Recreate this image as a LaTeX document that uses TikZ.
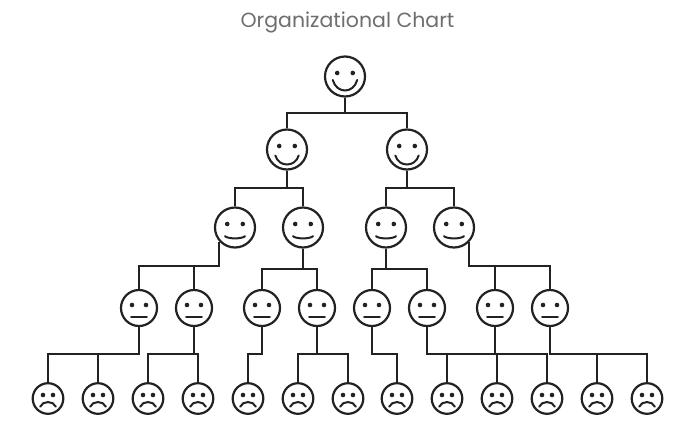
\documentclass[tikz,border=0pt]{standalone}
\usepackage{fontspec}
\setmainfont{Poppins}
\definecolor{ink}{HTML}{222222}
\definecolor{titlegray}{HTML}{6E6E6E}
\tikzset{
  face/.style={circle,draw=ink,line width=2.2pt,inner sep=0pt,fill=white},
  feat/.style={draw=ink,line width=2pt,line cap=round},
  link/.style={draw=ink,line width=2pt,line join=miter}
}
% name, x, y, radius, eye dx, eye dy, mouth half width, mouth end dy, mouth control dy
\newcommand{\myface}[9]{%
  \node[face,minimum size=#4*2pt] (#1) at (#2,#3) {};
  \begin{scope}[shift={(#2,#3)}]
    \fill[ink] (-#5,#6) circle[radius=2.3pt] (#5,#6) circle[radius=2.3pt];
    \draw[feat] (-#7,#8) .. controls (-#7*0.7,#9) and (#7*0.7,#9) .. (#7,#8);
  \end{scope}}
\newcommand{\hsmile}[3]{\myface{#1}{#2}{#3}{20}{7.8}{-3.5}{12.2}{3.5}{17.5}}
\newcommand{\msmile}[3]{\myface{#1}{#2}{#3}{20}{7.8}{-3.5}{11.7}{6}{18}}
\newcommand{\lsmile}[3]{\myface{#1}{#2}{#3}{20}{7.8}{-3.5}{10}{8.7}{11.6}}
\newcommand{\neutral}[3]{\myface{#1}{#2}{#3}{18}{7}{-3}{7.8}{8.7}{8.7}}
\newcommand{\sad}[3]{\myface{#1}{#2}{#3}{15.3}{5}{-3.5}{7.8}{8.2}{2}}
\begin{document}
\begin{tikzpicture}[x=1pt,y=-1pt]
\useasboundingbox (0,0) rectangle (693,426);
\node[text=titlegray,font=\fontsize{20.5}{22}\selectfont,inner sep=0pt,anchor=base] (title) at (347.5,27) {Organizational Chart};

\hsmile{a}{345}{76.5}
\msmile{b1}{287}{149.5}
\msmile{b2}{407}{149.5}
\lsmile{c1}{235}{227.5}
\lsmile{c2}{303}{227.5}
\lsmile{c3}{386}{227.5}
\lsmile{c4}{454}{227.5}
\neutral{d1}{139}{308}
\neutral{d2}{194}{308}
\neutral{d3}{262}{308}
\neutral{d4}{317}{308}
\neutral{d5}{372}{308}
\neutral{d6}{427}{308}
\neutral{d7}{495}{308}
\neutral{d8}{550}{308}
\sad{e1}{48}{398.5}
\sad{e2}{98}{398.5}
\sad{e3}{148}{398.5}
\sad{e4}{198}{398.5}
\sad{e5}{248}{398.5}
\sad{e6}{298}{398.5}
\sad{e7}{348}{398.5}
\sad{e8}{397}{398.5}
\sad{e9}{447}{398.5}
\sad{e10}{497}{398.5}
\sad{e11}{547}{398.5}
\sad{e12}{597}{398.5}
\sad{e13}{647}{398.5}

\coordinate (busa) at (0,113);
\coordinate (busb) at (0,188);
\coordinate (busc) at (0,266);
\coordinate (buscc) at (0,269);
\coordinate (busd) at (0,354);

\draw[link] (a.south) -- (a.south |- busa);
\draw[link] (b1.north) |- (b2.north |- busa) -- (b2.north);

\draw[link] (b1.south) -- (b1.south |- busb) -| (c1.north);
\draw[link] (b1.south |- busb) -| (c2.north);
\draw[link] (b2.south) -- (b2.south |- busb) -| (c3.north);
\draw[link] (b2.south |- busb) -| (c4.north);

\draw[link] (c1.-138) -- (c1.-138 |- busc) -| (d1.north);
\draw[link] (c1.-138 |- busc) -| (d2.north);
\draw[link] (c2.south) -- (c2.south |- buscc) -| (d3.north);
\draw[link] (c2.south |- buscc) -| (d4.north);
\draw[link] (c3.south) -- (c3.south |- buscc) -| (d5.north);
\draw[link] (c3.south |- buscc) -| (d6.north);
\draw[link] (c4.-45) -- (c4.-45 |- busc) -| (d7.north);
\draw[link] (c4.-45 |- busc) -| (d8.north);

\draw[link] (d1.south) -- (d1.south |- busd) -| (e1.north);
\draw[link] (d1.south |- busd) -| (e2.north);
\draw[link] (d2.south) -- (d2.south |- busd) -| (e3.north);
\draw[link] (d2.south |- busd) -| (e4.north);
\draw[link] (d3.south) -- (d3.south |- busd) -| (e5.north);
\draw[link] (d4.south) -- (d4.south |- busd) -| (e6.north);
\draw[link] (d4.south |- busd) -| (e7.north);
\draw[link] (d5.south) -- (d5.south |- busd) -| (e8.north);
\draw[link] (d6.south) -- (d6.south |- busd) -| (e9.north);
\draw[link] (d6.south |- busd) -| (e10.north);
\draw[link] (d6.south |- busd) -| (e11.north);
\draw[link] (d7.south) -- (d7.south |- busd);
\draw[link] (d8.south) -- (d8.south |- busd) -| (e12.north);
\draw[link] (d8.south |- busd) -| (e13.north);
\end{tikzpicture}
\end{document}
